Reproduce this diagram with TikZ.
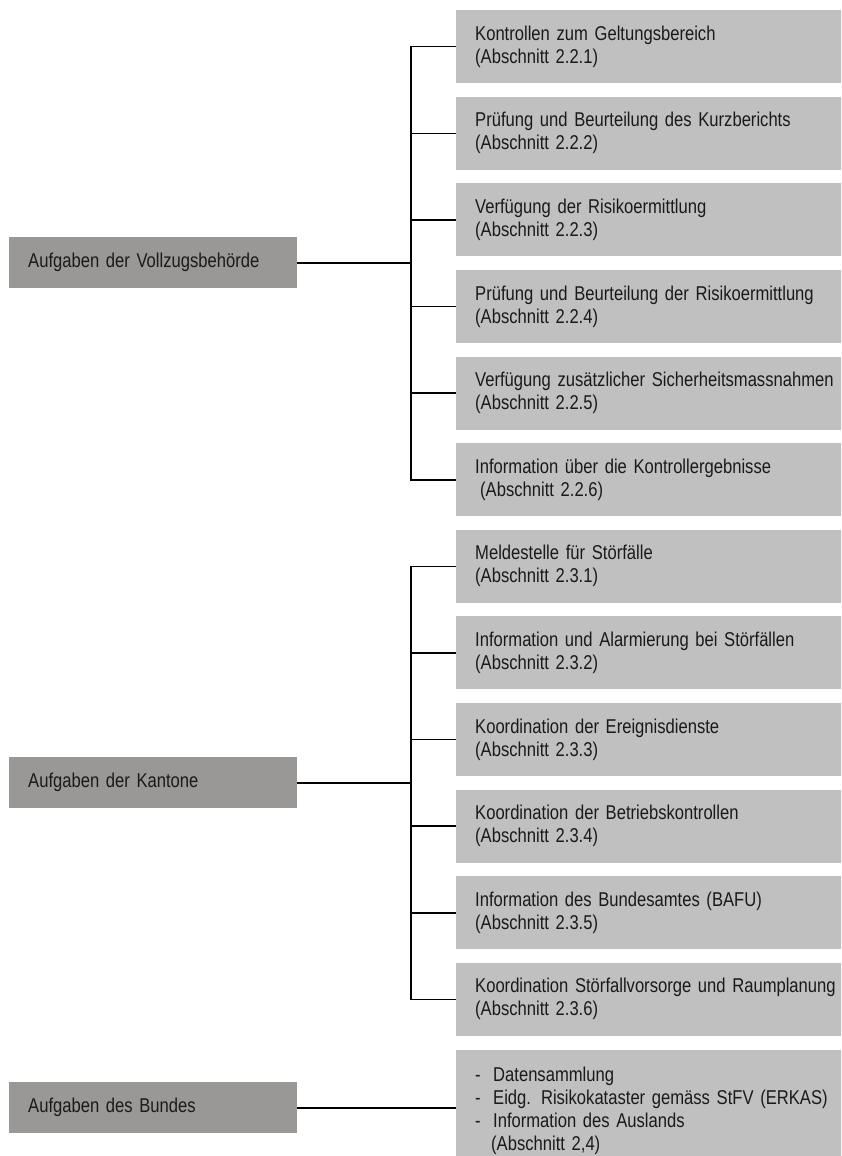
\documentclass[tikz,border=0pt]{standalone}
\usepackage{fontspec}
\setmainfont{Liberation Sans}[FakeStretch=0.83]
\definecolor{rgray}{RGB}{192,192,192}
\definecolor{lgray}{RGB}{153,152,150}
\definecolor{txt}{RGB}{26,26,26}
\newcommand\boxfont{\fontsize{20pt}{23pt}\selectfont}
\tikzset{
  rbox/.style={fill=rgray, anchor=north west, minimum height=73pt, inner xsep=19pt, inner ysep=0pt,
    text width=366pt, align=left, text=txt, font=\boxfont},
  lbox/.style={fill=lgray, anchor=north west, minimum height=51pt, inner xsep=19pt, inner ysep=0pt,
    text width=250pt, align=left, text=txt, font=\boxfont},
  conn/.style={line width=1.6pt, black}
}
\begin{document}
\begin{tikzpicture}[x=1pt,y=-1pt]
\useasboundingbox (0,0) rectangle (841,1156);
\clip (0,0) rectangle (841,1156);
% right boxes, group 1
\node[rbox] (r1) at (456,10) {Kontrollen zum Geltungsbereich\\(Abschnitt 2.2.1)};
\node[rbox] (r2) at (456,96.6) {Prüfung und Beurteilung des Kurzberichts\\(Abschnitt 2.2.2)};
\node[rbox] (r3) at (456,183.2) {Verfügung der Risikoermittlung\\(Abschnitt 2.2.3)};
\node[rbox] (r4) at (456,269.8) {Prüfung und Beurteilung der Risikoermittlung\\(Abschnitt 2.2.4)};
\node[rbox] (r5) at (456,356.4) {Verfügung zusätzlicher Sicherheitsmassnahmen\\(Abschnitt 2.2.5)};
\node[rbox] (r6) at (456,443) {Information über die Kontrollergebnisse\\\hspace*{5pt}(Abschnitt 2.2.6)};
% right boxes, group 2
\node[rbox] (r7) at (456,529.6) {Meldestelle für Störfälle\\(Abschnitt 2.3.1)};
\node[rbox] (r8) at (456,616.2) {Information und Alarmierung bei Störfällen\\(Abschnitt 2.3.2)};
\node[rbox] (r9) at (456,702.8) {Koordination der Ereignisdienste\\(Abschnitt 2.3.3)};
\node[rbox] (r10) at (456,789.4) {Koordination der Betriebskontrollen\\(Abschnitt 2.3.4)};
\node[rbox] (r11) at (456,876) {Information des Bundesamtes (BAFU)\\(Abschnitt 2.3.5)};
\node[rbox] (r12) at (456,962.6) {Koordination Störfallvorsorge und Raumplanung\\(Abschnitt 2.3.6)};
% right box 13
\node[rbox, minimum height=121pt] (r13) at (456,1050) {\makebox[18pt][l]{-}Datensammlung\\\makebox[18pt][l]{-}Eidg. Risikokataster gemäss StFV (ERKAS)\\\makebox[18pt][l]{-}Information des Auslands\\\hspace*{16pt}(Abschnitt 2,4)};
% left boxes
\node[lbox] (L1) at (9,237) {Aufgaben der Vollzugsbehörde};
\node[lbox] (L2) at (9,757) {Aufgaben der Kantone};
\node[lbox] (L3) at (9,1082) {Aufgaben des Bundes};
% bus coordinates
\coordinate (b1) at (411,0);
% group 1 connectors
\draw[conn] (r1.west) -- (r1.west -| b1) -- (r6.west -| b1) -- (r6.west);
\foreach \i in {2,3,4,5} { \draw[conn] (r\i.west) -- (r\i.west -| b1); }
\draw[conn] (L1.east) -- (L1.east -| b1);
% group 2 connectors
\draw[conn] (r7.west) -- (r7.west -| b1) -- (r12.west -| b1) -- (r12.west);
\foreach \i in {8,9,10,11} { \draw[conn] (r\i.west) -- (r\i.west -| b1); }
\draw[conn] (L2.east) -- (L2.east -| b1);
% group 3
\draw[conn] (L3.east) -- (L3.east -| r13.west);
\end{tikzpicture}
\end{document}
